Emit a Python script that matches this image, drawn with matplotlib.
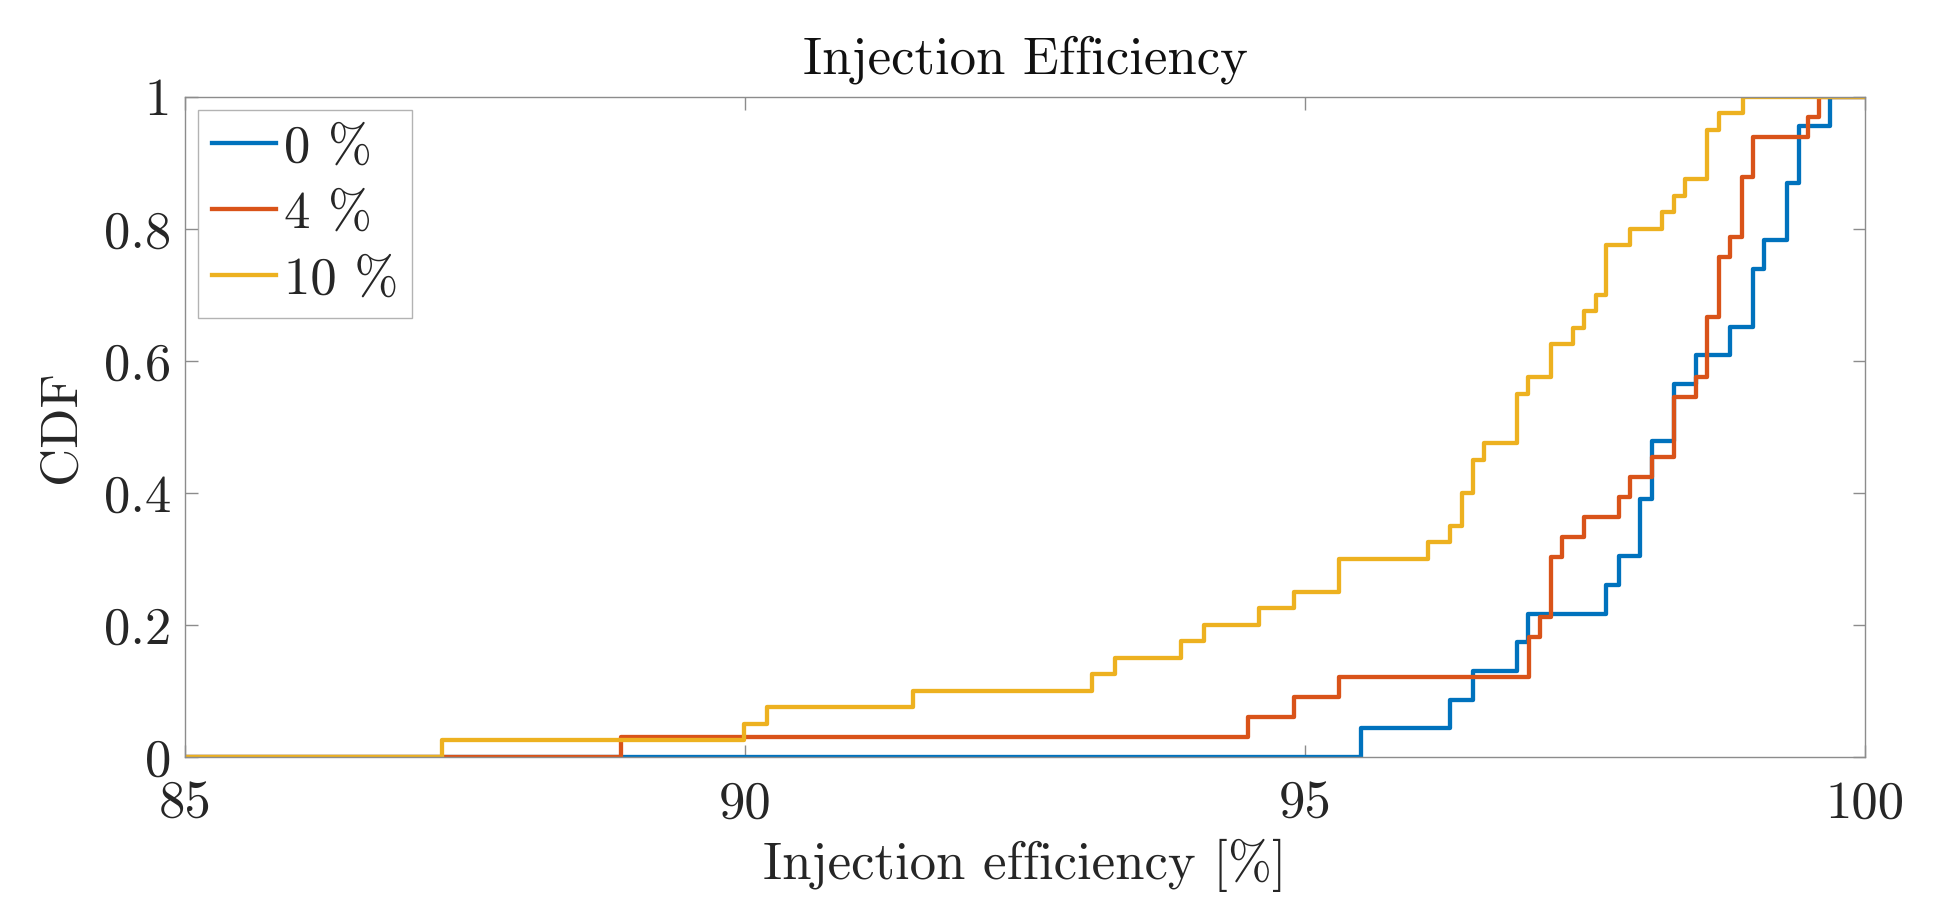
import matplotlib
matplotlib.use("Agg")
import matplotlib.pyplot as plt

# computer modern look like the latex interpreter
plt.rcParams['font.family'] = ['cmr10', 'DejaVu Serif']
plt.rcParams['mathtext.fontset'] = 'cm'
plt.rcParams['axes.unicode_minus'] = False

eff0 = [85, 95.50, 96.29, 96.50, 96.89, 96.99, 97.69, 97.80, 97.99, 98.10,
        98.29, 98.49, 98.79, 99.00, 99.10, 99.30, 99.41, 99.69, 100]
cdf0 = [0, .0435, .087, .1304, .1739, .2174, .2609, .3043, .3913, .4783,
        .5652, .6087, .6522, .7391, .7826, .8696, .9565, 1.0, 1.0]

eff4 = [85, 88.89, 94.49, 94.90, 95.30, 97.00, 97.10, 97.20, 97.29, 97.49,
        97.80, 97.90, 98.10, 98.29, 98.49, 98.59, 98.70, 98.79, 98.90, 99.00,
        99.49, 99.59, 100]
cdf4 = [0, .0303, .0606, .0909, .1212, .1818, .2121, .3030, .3333, .3636,
        .3939, .4242, .4545, .5455, .5758, .6667, .7576, .7879, .8788, .9394,
        .9697, 1.0, 1.0]

eff10 = [85, 87.29, 89.99, 90.20, 91.50, 93.10, 93.30, 93.89, 94.10, 94.59,
         94.90, 95.30, 96.10, 96.29, 96.40, 96.50, 96.60, 96.89, 96.99, 97.20,
         97.39, 97.49, 97.60, 97.69, 97.90, 98.19, 98.29, 98.39, 98.59, 98.70,
         98.91, 100]
cdf10 = [0, .025, .05, .075, .1, .125, .15, .175, .2, .225,
         .25, .3, .325, .35, .4, .45, .475, .55, .575, .625,
         .65, .675, .7, .775, .8, .825, .85, .875, .95, .975,
         1.0, 1.0]

labels = ['0 %', '4 %', '10 %']
colors = ['#0072BD', '#D95319', '#EDB120']
xticks = [85, 90, 95, 100]
xticklabels = ['85', '90', '95', '100']
yticks = [0, 0.2, 0.4, 0.6, 0.8, 1]
yticklabels = ['0', '0.2', '0.4', '0.6', '0.8', '1']

fs = 38
fig = plt.figure(figsize=(19.54, 9.08), dpi=100)
ax = fig.add_axes([0.0947, 0.1663, 0.8598, 0.7269])

for x, y, lab, c in zip([eff0, eff4, eff10], [cdf0, cdf4, cdf10], labels, colors):
    ax.step(x, y, where='post', color=c, lw=3.1, label=lab)

ax.set_xlim(85, 100)
ax.set_ylim(0, 1)
ax.set_xticks(xticks)
ax.set_xticklabels(xticklabels)
ax.set_yticks(yticks)
ax.set_yticklabels(yticklabels)

spine_col = '#8c8c8c'
for s in ax.spines.values():
    s.set_color(spine_col)
    s.set_linewidth(1.0)
ax.tick_params(direction='in', length=9, width=1.0, color=spine_col,
               labelsize=fs, labelcolor='#262626', top=True, right=True, pad=10)
ax.tick_params(axis='x', pad=17)

ax.set_title('Injection Efficiency', fontsize=fs, color='#111111', pad=17)
ax.set_xlabel('Injection efficiency [%]', fontsize=fs, color='#262626', labelpad=8)
ax.set_ylabel('CDF', fontsize=fs, color='#262626', labelpad=14)

leg = ax.legend(loc='upper left', fontsize=fs, frameon=True, fancybox=False,
                edgecolor='#a0a0a0', handlelength=1.2, handletextpad=0.15,
                labelspacing=0.36, borderpad=0.27, borderaxespad=0.25)
leg.get_frame().set_linewidth(1.0)
for t in leg.get_texts():
    t.set_color('#262626')

fig.savefig('out.png', dpi=100)
